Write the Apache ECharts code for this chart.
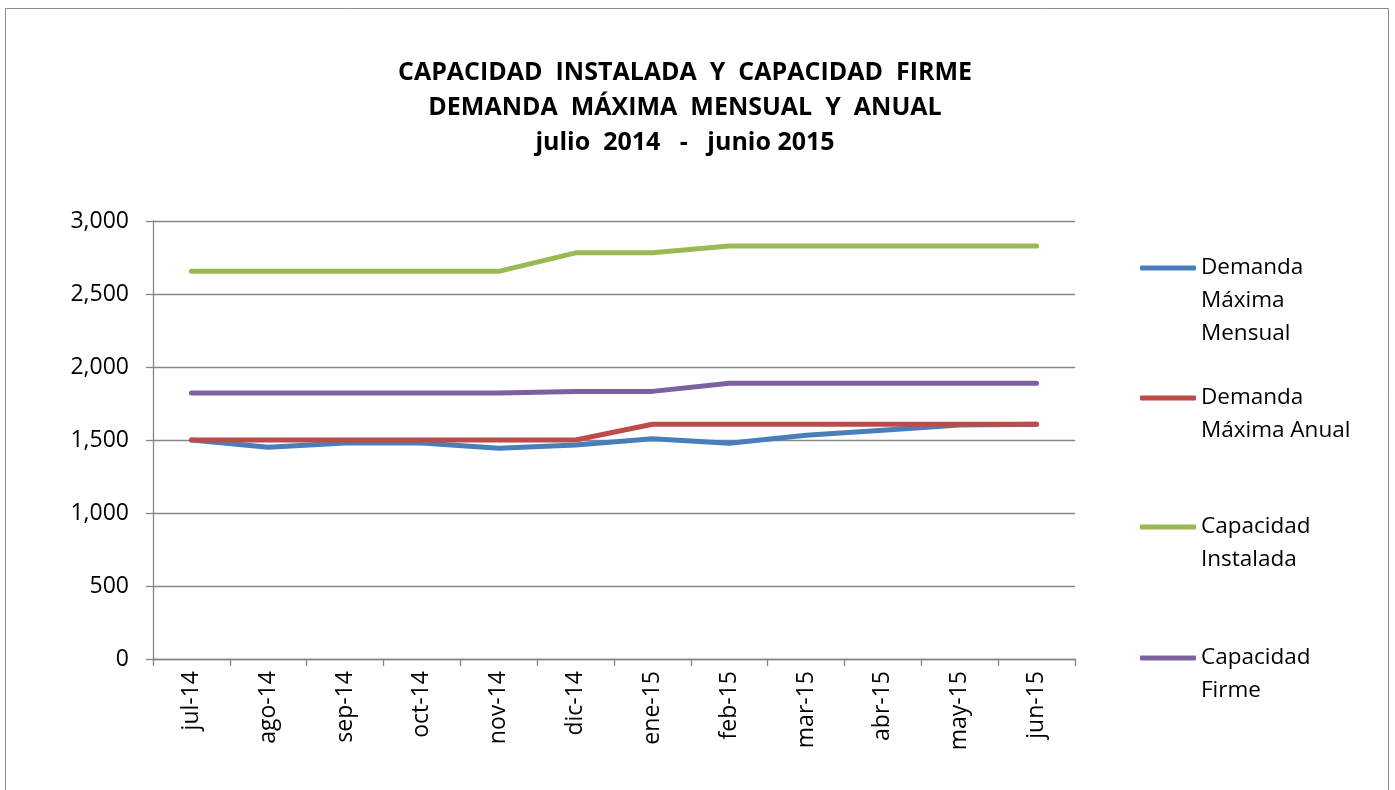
<!DOCTYPE html>
<html>
<head>
<meta charset="utf-8">
<title>Capacidad instalada y capacidad firme</title>
<script src="https://cdn.jsdelivr.net/npm/echarts@6/dist/echarts.min.js"></script>
<style>
  html, body { margin: 0; padding: 0; background: #fff; }
  #chart { width: 1395px; height: 790px; }
</style>
</head>
<body>
<div id="chart"></div>
<script>
  // datos (MW)
  var meses = ["jul-14", "ago-14", "sep-14", "oct-14", "nov-14", "dic-14",
               "ene-15", "feb-15", "mar-15", "abr-15", "may-15", "jun-15"];
  var demandaMensual = [1500, 1450, 1480, 1480, 1443, 1465, 1508, 1477, 1532, 1566, 1602, 1608];
  var demandaAnual   = [1500, 1500, 1500, 1500, 1500, 1500, 1608, 1608, 1608, 1608, 1608, 1608];
  var capInstalada   = [2655, 2655, 2655, 2655, 2655, 2782, 2782, 2828, 2828, 2828, 2828, 2828];
  var capFirme       = [1822, 1822, 1822, 1822, 1822, 1833, 1833, 1888, 1888, 1888, 1888, 1888];
  var ticksY = [0, 500, 1000, 1500, 2000, 2500, 3000];

  var nombres = ["Demanda Máxima Mensual", "Demanda Máxima Anual", "Capacidad Instalada", "Capacidad Firme"];
  // texto de leyenda, con lineas vacias arriba para que el icono quede en la primera linea
  var textoLeyenda = {
    "Demanda Máxima Mensual": "\n\nDemanda\nMáxima\nMensual",
    "Demanda Máxima Anual": "\nDemanda\nMáxima Anual",
    "Capacidad Instalada": "\nCapacidad\nInstalada",
    "Capacidad Firme": "\nCapacidad\nFirme"
  };
  var colores = ["#4a7ebb", "#be4b48", "#98b954", "#7d60a0"];
  var valores = [demandaMensual, demandaAnual, capInstalada, capFirme];

  var fuente = "'Open Sans', 'DejaVu Sans', sans-serif";
  var lineaTexto = 33;
  var iconoY = [268, 398, 527, 658];

  var myChart = echarts.init(document.getElementById("chart"));

  var leyendas = nombres.map(function (n, i) {
    var lineas = textoLeyenda[n].split("\n").length;
    return {
      data: [n],
      left: 1140,
      top: iconoY[i] - lineas * lineaTexto / 2,
      padding: 0,
      icon: "roundRect",
      itemWidth: 56,
      itemHeight: 5,
      selectedMode: false,
      formatter: function (name) { return textoLeyenda[name]; },
      textStyle: { fontFamily: fuente, fontSize: 22.5, color: "#000", lineHeight: lineaTexto }
    };
  });

  myChart.setOption({
    animation: false,
    title: {
      text: "CAPACIDAD  INSTALADA  Y  CAPACIDAD  FIRME\nDEMANDA  MÁXIMA  MENSUAL  Y  ANUAL\njulio  2014   -   junio 2015",
      left: 685,
      top: 55,
      padding: 0,
      textAlign: "center",
      textStyle: { fontFamily: fuente, fontWeight: "bold", fontSize: 25, lineHeight: 35, color: "#000" }
    },
    graphic: [{
      type: "rect",
      shape: { x: 5.5, y: 8.5, width: 1383, height: 800 },
      style: { fill: null, stroke: "#8c8c8c", lineWidth: 1 },
      silent: true
    }],
    legend: leyendas,
    grid: { left: 153, right: 320, top: 221, bottom: 131 },
    xAxis: {
      type: "category",
      data: meses,
      boundaryGap: true,
      axisLine: { lineStyle: { color: "#868686", width: 1.3 } },
      axisTick: { show: true, length: 7, lineStyle: { color: "#868686", width: 1.3 } },
      axisLabel: { rotate: 90, margin: 12, fontFamily: fuente, fontSize: 23, color: "#000" }
    },
    yAxis: {
      type: "value",
      min: ticksY[0],
      max: ticksY[ticksY.length - 1],
      interval: 500,
      axisLine: { show: true, lineStyle: { color: "#868686", width: 1.3 } },
      axisTick: { show: true, length: 7, lineStyle: { color: "#868686", width: 1.3 } },
      splitLine: { lineStyle: { color: "#868686", width: 1.3 } },
      axisLabel: {
        margin: 24,
        fontFamily: fuente,
        fontSize: 23,
        color: "#000",
        formatter: function (v) { return v.toLocaleString("en-US"); }
      }
    },
    series: nombres.map(function (n, i) {
      return {
        name: n,
        type: "line",
        data: valores[i],
        symbol: "none",
        color: colores[i],
        lineStyle: { width: 5, color: colores[i], cap: "round", join: "round" }
      };
    })
  });
</script>
</body>
</html>
